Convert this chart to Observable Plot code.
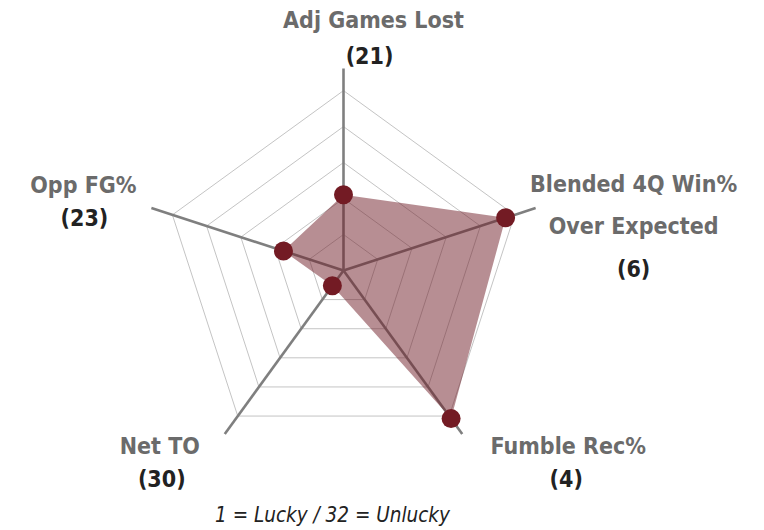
<!DOCTYPE html>
<html>
<head>
<meta charset="utf-8">
<script src="https://cdn.jsdelivr.net/npm/d3@7"></script>
<script src="https://cdn.jsdelivr.net/npm/@observablehq/plot@0.6"></script>
<style>
  html, body { margin: 0; padding: 0; background: #fff; }
  #chart svg { display: block; }
</style>
</head>
<body>
<div id="chart"></div>
<script>
// ---- data ----
const categories = ["Adj Games Lost", "Blended 4Q Win%\nOver Expected", "Fumble Rec%", "Net TO", "Opp FG%"];
const ranks = [21, 6, 4, 30, 23];
const maxRank = 32;
const gridLevels = [5.7, 11.4, 17.1, 22.8, 28.5]; // ring levels in "luck" units (33 - rank)
const caption = "1 = Lucky / 32 = Unlucky";

// ---- layout ----
const W = 764, H = 530;
const cx = 343, cy = 270;           // pixel centre of the radar
const unit = 202 / maxRank;         // pixels per luck unit
const n = categories.length;
const angle = i => Math.PI / 2 - i * 2 * Math.PI / n;
const polar = (i, v) => [Math.cos(angle(i)) * v * unit, Math.sin(angle(i)) * v * unit];

const luck = ranks.map(r => maxRank + 1 - r);

const rings = gridLevels.flatMap((lv, k) =>
  d3.range(n + 1).map(j => { const [x, y] = polar(j % n, lv); return {k, x, y}; }));
const spokes = categories.map((c, i) => { const [x, y] = polar(i, maxRank); return {x1: 0, y1: 0, x2: x, y2: y}; });
const pts = luck.map((v, i) => { const [x, y] = polar(i, v); return {x, y, cat: categories[i]}; });
const poly = [...pts, pts[0]];

// label placement: screen-pixel offsets (right, down) of the baselines from each spoke end
const nameFs = 23, rankFs = 23, nameLh = 42 / 23;
const nameShift = [[30, -40], [98, -16], [106, 20], [-65, 20], [-68, -15]];
const rankShift = [[26, -5], [98, 69], [104, 53], [-63, 53], [-67, 18]];
const labels = categories.map((c, i) => {
  const [x, y] = polar(i, maxRank);
  return {
    nx: x + nameShift[i][0], ny: y - nameShift[i][1] + 0.71 * nameLh * nameFs,
    rx: x + rankShift[i][0], ry: y - rankShift[i][1] + 0.71 * rankFs,
    name: c, rank: `(${ranks[i]})`
  };
});

const font = "'DejaVu Sans Condensed', 'Liberation Sans Narrow', Roboto, sans-serif";

const chart = Plot.plot({
  width: W, height: H, margin: 0,
  style: {fontFamily: font, background: "#fff"},
  x: {domain: [-cx, W - cx], axis: null},
  y: {domain: [cy - H, cy], axis: null},
  marks: [
    Plot.line(rings, {x: "x", y: "y", z: "k", stroke: "#c4c4c4", strokeWidth: 1, curve: "linear"}),
    Plot.link(spokes, {x1: "x1", y1: "y1", x2: "x2", y2: "y2", stroke: "#7f7f7f", strokeWidth: 2.6}),
    Plot.line(poly, {x: "x", y: "y", fill: "#6f1d28", fillOpacity: 0.5, stroke: "none", curve: "linear"}),
    Plot.dot(pts, {x: "x", y: "y", r: 9.5, fill: "#731b24", stroke: "none"}),
    Plot.text(labels, {x: "nx", y: "ny", text: "name", fill: "#6b6b6b", fontWeight: "bold", fontSize: nameFs, lineHeight: nameLh, lineAnchor: "top", textAnchor: "middle"}),
    Plot.text(labels, {x: "rx", y: "ry", text: "rank", fill: "#222", fontWeight: "bold", fontSize: rankFs, lineAnchor: "top", textAnchor: "middle"}),
    Plot.text([caption], {frameAnchor: "bottom", text: d => d, dy: -9, dx: -50, fill: "#222", fontSize: 20.5, fontStyle: "italic"})
  ]
});
document.getElementById("chart").append(chart);
</script>
</body>
</html>
